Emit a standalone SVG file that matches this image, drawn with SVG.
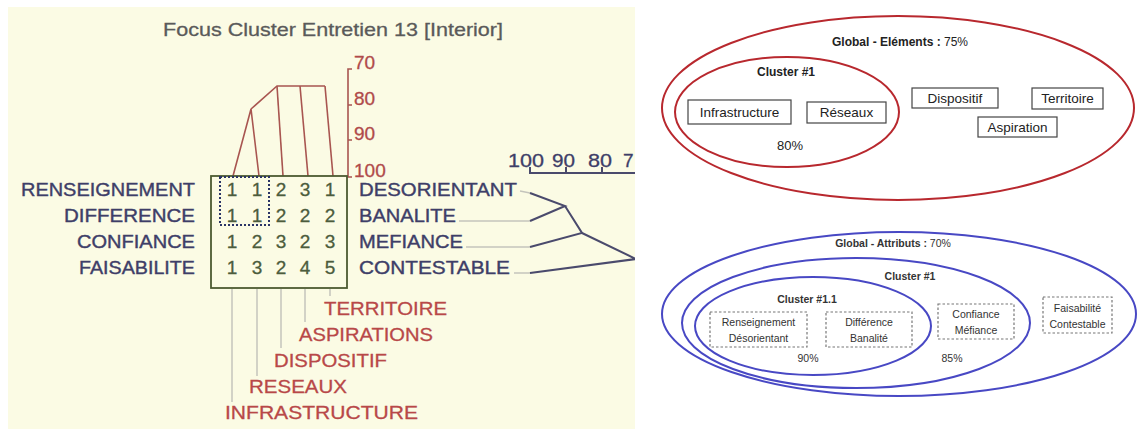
<svg xmlns="http://www.w3.org/2000/svg" width="1139" height="432" viewBox="0 0 1139 432">
<defs>
<style>
.lp{font-family:"Liberation Sans",Arial,sans-serif;}
.ttl{font-size:19px;fill:#5a5a5a;stroke:#5a5a5a;stroke-width:0.3;}
.lab{font-size:19px;fill:#3e3e68;stroke:#3e3e68;stroke-width:0.4;}
.num{font-size:19px;fill:#4c5c3c;text-anchor:middle;stroke:#4c5c3c;stroke-width:0.3;}
.scl{font-size:19px;fill:#b04a4a;stroke:#b04a4a;stroke-width:0.3;}
.rlab{font-size:19px;fill:#b84848;stroke:#b84848;stroke-width:0.3;}
.bscl{font-size:19px;fill:#3e3e68;stroke:#3e3e68;stroke-width:0.3;}
.red{stroke:#a85550;stroke-width:1.6;fill:none;}
.blu{stroke:#4a4a6c;stroke-width:2;fill:none;}
.gry{stroke:#c4c4bc;stroke-width:1.5;fill:none;}
.rp{font-family:"Liberation Sans",Arial,sans-serif;fill:#222;}
.box{fill:#fff;stroke:#444;stroke-width:1.2;}
.dbox{fill:#fff;stroke:#777;stroke-width:1.2;stroke-dasharray:2.5,2;}
.rell{fill:none;stroke:#b8282e;stroke-width:2;}
.bell{fill:none;stroke:#4848c4;stroke-width:2;}
</style>
<clipPath id="lc"><rect x="8" y="7" width="627" height="422"/></clipPath>
</defs>
<rect width="1139" height="432" fill="#fff"/>
<g id="left-panel" clip-path="url(#lc)" class="lp">
<rect x="8" y="7" width="627" height="422" fill="#fbfbe4"/>
<text class="ttl" x="333" y="36" text-anchor="middle" textLength="340" lengthAdjust="spacingAndGlyphs">Focus Cluster Entretien 13 [Interior]</text>
<g id="red-dendrogram">
<polyline class="red" points="233,176 251,109 259,176"/>
<polyline class="red" points="251,109 277,86 325,86"/>
<line class="red" x1="277" y1="86" x2="283" y2="176"/>
<line class="red" x1="300" y1="86" x2="308" y2="176"/>
<line class="red" x1="325" y1="86" x2="333" y2="176"/>
<path class="red" d="M352,69 H348 V177 H352 M348,105 H352 M348,140 H352"/>
<text class="scl" x="354" y="69">70</text>
<text class="scl" x="354" y="105">80</text>
<text class="scl" x="354" y="140">90</text>
<text class="scl" x="354" y="177">100</text>
</g>
<g id="grid">
<rect x="211" y="176" width="136" height="112" fill="none" stroke="#4c5a30" stroke-width="1.8"/>
<rect x="220" y="177" width="49" height="48" fill="none" stroke="#2a3466" stroke-width="2" stroke-dasharray="2,2"/>
<text class="num" y="196"><tspan x="232">1</tspan><tspan x="257">1</tspan><tspan x="281">2</tspan><tspan x="305">3</tspan><tspan x="330">1</tspan></text>
<text class="num" y="222"><tspan x="232">1</tspan><tspan x="257">1</tspan><tspan x="281">2</tspan><tspan x="305">2</tspan><tspan x="330">2</tspan></text>
<text class="num" y="248"><tspan x="232">1</tspan><tspan x="257">2</tspan><tspan x="281">3</tspan><tspan x="305">2</tspan><tspan x="330">3</tspan></text>
<text class="num" y="274"><tspan x="232">1</tspan><tspan x="257">3</tspan><tspan x="281">2</tspan><tspan x="305">4</tspan><tspan x="330">5</tspan></text>
</g>
<g id="row-labels">
<text class="lab" x="195" y="196" text-anchor="end" textLength="174" lengthAdjust="spacingAndGlyphs">RENSEIGNEMENT</text>
<text class="lab" x="195" y="222" text-anchor="end" textLength="131" lengthAdjust="spacingAndGlyphs">DIFFERENCE</text>
<text class="lab" x="195" y="248" text-anchor="end" textLength="118" lengthAdjust="spacingAndGlyphs">CONFIANCE</text>
<text class="lab" x="195" y="274" text-anchor="end" textLength="116" lengthAdjust="spacingAndGlyphs">FAISABILITE</text>
<text class="lab" x="359" y="196" textLength="158" lengthAdjust="spacingAndGlyphs">DESORIENTANT</text>
<text class="lab" x="359" y="222" textLength="97" lengthAdjust="spacingAndGlyphs">BANALITE</text>
<text class="lab" x="359" y="248" textLength="104" lengthAdjust="spacingAndGlyphs">MEFIANCE</text>
<text class="lab" x="359" y="274" textLength="151" lengthAdjust="spacingAndGlyphs">CONTESTABLE</text>
</g>
<g id="blue-dendrogram">
<line class="gry" x1="520" y1="191" x2="530" y2="193"/>
<line class="gry" x1="459" y1="221" x2="530" y2="221"/>
<line class="gry" x1="466" y1="247" x2="530" y2="247"/>
<line class="gry" x1="514" y1="273" x2="530" y2="273"/>
<polyline class="blu" points="530,193 565,206 530,221"/>
<polyline class="blu" points="565,206 582,233 530,247"/>
<polyline class="blu" points="582,233 636,259 530,273"/>
<path class="blu" d="M530,167 V173 H640 M566,167 V173 M602,167 V173" stroke-width="1.6"/>
<text class="bscl" x="508" y="167" textLength="36" lengthAdjust="spacingAndGlyphs">100</text>
<text class="bscl" x="552" y="167" textLength="23" lengthAdjust="spacingAndGlyphs">90</text>
<text class="bscl" x="588" y="167" textLength="24" lengthAdjust="spacingAndGlyphs">80</text>
<text class="bscl" x="623" y="167">7</text>
</g>
<g id="column-labels">
<line class="gry" x1="232" y1="289" x2="232" y2="402"/>
<line class="gry" x1="257" y1="289" x2="257" y2="376"/>
<line class="gry" x1="281" y1="289" x2="281" y2="348"/>
<line class="gry" x1="305" y1="289" x2="305" y2="322"/>
<line class="gry" x1="330" y1="289" x2="330" y2="296"/>
<text class="rlab" x="324" y="315" textLength="123" lengthAdjust="spacingAndGlyphs">TERRITOIRE</text>
<text class="rlab" x="299" y="341" textLength="134" lengthAdjust="spacingAndGlyphs">ASPIRATIONS</text>
<text class="rlab" x="274" y="367" textLength="113" lengthAdjust="spacingAndGlyphs">DISPOSITIF</text>
<text class="rlab" x="249" y="393" textLength="98" lengthAdjust="spacingAndGlyphs">RESEAUX</text>
<text class="rlab" x="225" y="419" textLength="193" lengthAdjust="spacingAndGlyphs">INFRASTRUCTURE</text>
</g>
</g>
<g id="elements-diagram" class="rp">
<ellipse id="global-elements" class="rell" cx="898" cy="108" rx="236" ry="92"/>
<ellipse id="cluster1-elements" class="rell" cx="787" cy="112" rx="112" ry="55"/>
<text x="900" y="46" text-anchor="middle" font-size="12"><tspan font-weight="bold">Global - Eléments :</tspan> 75%</text>
<text x="786" y="76" text-anchor="middle" font-size="12" font-weight="bold">Cluster #1</text>
<g id="n-infrastructure"><rect class="box" x="688" y="100" width="103" height="24"/><text x="739.5" y="117" text-anchor="middle" font-size="13.5">Infrastructure</text></g>
<g id="n-reseaux"><rect class="box" x="807" y="102" width="79" height="21"/><text x="846.5" y="117" text-anchor="middle" font-size="13.5">Réseaux</text></g>
<g id="n-dispositif"><rect class="box" x="912" y="88" width="86" height="20"/><text x="955" y="103" text-anchor="middle" font-size="13.5">Dispositif</text></g>
<g id="n-territoire"><rect class="box" x="1032" y="88" width="71" height="21"/><text x="1067.5" y="103" text-anchor="middle" font-size="13.5">Territoire</text></g>
<g id="n-aspiration"><rect class="box" x="978" y="117" width="79" height="20"/><text x="1017.5" y="132" text-anchor="middle" font-size="13.5">Aspiration</text></g>
<text x="790" y="150" text-anchor="middle" font-size="13">80%</text>
</g>
<g id="attributes-diagram" class="rp">
<ellipse id="global-attributs" class="bell" cx="899" cy="314" rx="237" ry="82"/>
<ellipse id="cluster1-attributs" class="bell" cx="856" cy="323" rx="174" ry="65"/>
<ellipse id="cluster11-attributs" class="bell" cx="813" cy="326" rx="118" ry="49"/>
<text x="893" y="247" text-anchor="middle" font-size="10.5" fill="#333"><tspan font-weight="bold">Global - Attributs :</tspan> 70%</text>
<text x="910" y="280" text-anchor="middle" font-size="10.5" font-weight="bold" fill="#333">Cluster #1</text>
<text x="807" y="303" text-anchor="middle" font-size="10.5" font-weight="bold" fill="#333">Cluster #1.1</text>
<g id="n-renseignement"><rect class="dbox" x="710" y="312" width="97" height="35"/><text x="758.5" y="326" text-anchor="middle" font-size="10.5" fill="#333">Renseignement</text><text x="758.5" y="342" text-anchor="middle" font-size="10.5" fill="#333">Désorientant</text></g>
<g id="n-difference"><rect class="dbox" x="826" y="312" width="86" height="35"/><text x="869" y="326" text-anchor="middle" font-size="10.5" fill="#333">Différence</text><text x="869" y="342" text-anchor="middle" font-size="10.5" fill="#333">Banalité</text></g>
<g id="n-confiance"><rect class="dbox" x="938" y="304" width="76" height="35"/><text x="976" y="318" text-anchor="middle" font-size="10.5" fill="#333">Confiance</text><text x="976" y="334" text-anchor="middle" font-size="10.5" fill="#333">Méfiance</text></g>
<g id="n-faisabilite"><rect class="dbox" x="1043" y="297" width="69" height="36"/><text x="1077.5" y="312" text-anchor="middle" font-size="10.5" fill="#333">Faisabilité</text><text x="1077.5" y="328" text-anchor="middle" font-size="10.5" fill="#333">Contestable</text></g>
<text x="808" y="362" text-anchor="middle" font-size="10.5" fill="#333">90%</text>
<text x="952" y="362" text-anchor="middle" font-size="10.5" fill="#333">85%</text>
</g>
</svg>
